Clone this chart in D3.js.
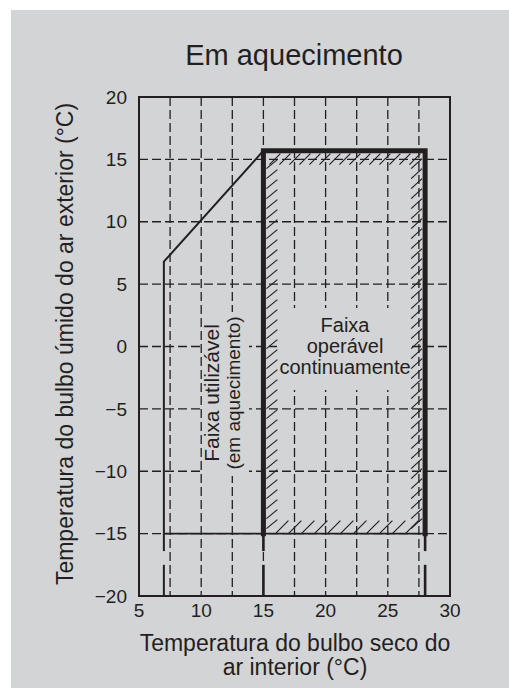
<!DOCTYPE html>
<html>
<head>
<meta charset="utf-8">
<script src="https://cdn.jsdelivr.net/npm/d3@7"></script>
<style>
  html, body { margin: 0; padding: 0; background: #ffffff; }
  svg { display: block; }
  text { font-family: "Liberation Sans", Arial, Helvetica, sans-serif; fill: #231f20; }
</style>
</head>
<body>
<div id="chart"></div>
<script>
// ---- Data ----
const title = "Em aquecimento";
const xLabelLines = ["Temperatura do bulbo seco do", "ar interior (°C)"];
const yLabel = "Temperatura do bulbo úmido do ar exterior (°C)";
const xDomain = [5, 30];
const yDomain = [-20, 20];
const xTicks = [5, 10, 15, 20, 25, 30];
const yTicks = [20, 15, 10, 5, 0, -5, -10, -15, -20];
const xGrid = [7.5, 10, 12.5, 15, 17.5, 20, 22.5, 25, 27.5];
const yGrid = [15, 10, 5, 0, -5, -10, -15];
// usable range boundary (thin line)
const usableX = [7, 7, 15];
const usableY = [-15, 6.8, 15.7];
// continuous operation range boundary (thick line)
const operableX = [15, 15, 28, 28];
const operableY = [-15, 15.7, 15.7, -15];
// bottom limit line
const bottomX = [7, 28];
const bottomY = [-15, -15];
// broken extensions below the bottom limit
const extensionX = [7, 15, 28];
const extensionUpper = [-15, -16.4];
const extensionLower = [-17.5, -20];
const usableText = ["Faixa utilizável", "(em aquecimento)"];
const operableText = ["Faixa", "operável", "continuamente"];

// ---- Layout ----
const W = 509, H = 688;
const bg = "#d3d4d6", ink = "#231f20";
const plot = { left: 139, right: 450, top: 97, bottom: 596 };

const svg = d3.select("#chart").append("svg").attr("width", W).attr("height", H);
svg.append("rect").attr("x", 11).attr("y", 10).attr("width", W - 11).attr("height", H - 10).attr("fill", bg);

const x = d3.scaleLinear().domain(xDomain).range([plot.left, plot.right]);
const y = d3.scaleLinear().domain(yDomain).range([plot.bottom, plot.top]);

// grid
const grid = svg.append("g").attr("stroke", ink).attr("stroke-width", 1.3).attr("stroke-dasharray", "9,4").attr("fill", "none");
grid.selectAll("line.v").data(xGrid).join("line")
  .attr("x1", d => x(d)).attr("x2", d => x(d)).attr("y1", plot.top).attr("y2", plot.bottom);
grid.selectAll("line.h").data(yGrid).join("line")
  .attr("x1", plot.left).attr("x2", plot.right).attr("y1", d => y(d)).attr("y2", d => y(d));

// text knock-out boxes
svg.append("rect").attr("x", 204).attr("y", 312).attr("width", 45).attr("height", 164).attr("fill", bg);
svg.append("rect").attr("x", 277).attr("y", 308).attr("width", 134).attr("height", 82).attr("fill", bg);

// hatching inside the operable region
const hx0 = x(15), hx1 = x(28), hy0 = y(15.7), hy1 = y(-15);
const hatch = svg.append("g").attr("stroke", ink).attr("stroke-width", 1.2);
const segs = [];
d3.range(hy0 + 18, hy1 - 2, 10).forEach(yy => segs.push([hx0 + 3, yy, hx0 + 14, yy - 9]));
d3.range(hx0 + 6, hx1 - 14, 10).forEach(xx => segs.push([xx, hy0 + 14, xx + 11, hy0 + 3]));
d3.range(hy0 + 18, hy1 - 2, 10).forEach(yy => segs.push([hx1 - 14, yy, hx1 - 3, yy - 10]));
d3.range(hx0 + 12, hx1 - 14, 13).forEach(xx => segs.push([xx, hy1, xx + 13, hy1 - 13]));
hatch.selectAll("line").data(segs).join("line")
  .attr("x1", d => d[0]).attr("y1", d => d[1]).attr("x2", d => d[2]).attr("y2", d => d[3]);

const line = d3.line().x(d => x(d[0])).y(d => y(d[1]));

// bottom limit
svg.append("path").attr("d", line(d3.zip(bottomX, bottomY)))
  .attr("fill", "none").attr("stroke", ink).attr("stroke-width", 1.6);
// usable boundary
svg.append("path").attr("d", line(d3.zip(usableX, usableY)))
  .attr("fill", "none").attr("stroke", ink).attr("stroke-width", 2).attr("stroke-linejoin", "miter");
// extensions
extensionX.forEach((xv, i) => {
  [extensionUpper, extensionLower].forEach(seg => {
    svg.append("line").attr("x1", x(xv)).attr("x2", x(xv)).attr("y1", y(seg[0])).attr("y2", y(seg[1]))
      .attr("stroke", ink).attr("stroke-width", i === 0 ? 2 : 2.6);
  });
});
// operable boundary
svg.append("path").attr("d", line(d3.zip(operableX, operableY)))
  .attr("fill", "none").attr("stroke", ink).attr("stroke-width", 5).attr("stroke-linejoin", "miter").attr("stroke-linecap", "square");

// frame
svg.append("rect").attr("x", plot.left).attr("y", plot.top)
  .attr("width", plot.right - plot.left).attr("height", plot.bottom - plot.top)
  .attr("fill", "none").attr("stroke", ink).attr("stroke-width", 2);

// axes labels
const fmt = v => (v < 0 ? "\u2212" + Math.abs(v) : String(v));
svg.append("g").selectAll("text").data(yTicks).join("text")
  .attr("x", 127).attr("y", d => y(d)).attr("dy", "0.35em")
  .attr("text-anchor", "end").attr("font-size", 19).text(fmt);
svg.append("g").selectAll("text").data(xTicks).join("text")
  .attr("x", d => x(d)).attr("y", 617)
  .attr("text-anchor", "middle").attr("font-size", 19).text(fmt);

// title
svg.append("text").attr("x", 294).attr("y", 65).attr("text-anchor", "middle")
  .attr("font-size", 29).text(title);

// x axis label
svg.append("g").selectAll("text").data(xLabelLines).join("text")
  .attr("x", 295).attr("y", (d, i) => 651 + i * 24)
  .attr("text-anchor", "middle").attr("font-size", 23).text(d => d);

// y axis label
svg.append("text").attr("transform", "translate(73,344) rotate(-90)")
  .attr("text-anchor", "middle").attr("font-size", 23).text(yLabel);

// usable range text (rotated)
svg.append("g").selectAll("text").data(usableText).join("text")
  .attr("transform", (d, i) => `translate(${219 + i * 21},393) rotate(-90)`)
  .attr("text-anchor", "middle").attr("font-size", (d, i) => (i === 0 ? 21 : 19)).text(d => d);

// operable text
svg.append("g").selectAll("text").data(operableText).join("text")
  .attr("x", 345).attr("y", (d, i) => 332 + i * 21)
  .attr("text-anchor", "middle").attr("font-size", 20).text(d => d);
</script>
</body>
</html>
